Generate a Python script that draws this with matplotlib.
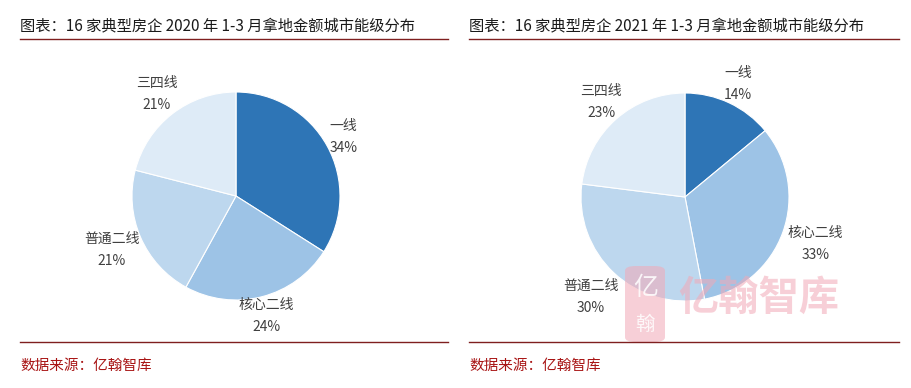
import matplotlib
matplotlib.use("Agg")
import matplotlib.pyplot as plt
from matplotlib.patches import FancyBboxPatch
from matplotlib.lines import Line2D
import numpy as np

plt.rcParams['font.family'] = ['Noto Sans CJK SC', 'DejaVu Sans']

categories = ["一线", "核心二线", "普通二线", "三四线"]
values_2020 = [34, 24, 21, 21]
values_2021 = [14, 33, 30, 23]
title_2020 = "图表：16 家典型房企 2020 年 1-3 月拿地金额城市能级分布"
title_2021 = "图表：16 家典型房企 2021 年 1-3 月拿地金额城市能级分布"
source_text = "数据来源：亿翰智库"
watermark = "亿翰智库"

colors = ["#2E75B6", "#9DC3E6", "#BDD7EE", "#DEEBF7"]
label_dist_2020 = [1.18, 1.19, 1.3, 1.24]
label_dist_2021 = [1.2, 1.33, 1.32, 1.22]

W, H = 912, 388
fig = plt.figure(figsize=(W / 100, H / 100), dpi=100)
fig.patch.set_facecolor("white")


def px_axes(cx, cy, r):
    return fig.add_axes([(cx - r) / W, (H - cy - r) / H, 2 * r / W, 2 * r / H])


def draw_pie(cx, cy, r, values, dists):
    ax = px_axes(cx, cy, r)
    labels = [f"{c}\n{v}%" for c, v in zip(categories, values)]
    wedges, texts = ax.pie(values, colors=colors, startangle=90, counterclock=False,
                           labels=labels, labeldistance=1.2, radius=1.0,
                           wedgeprops=dict(edgecolor="white", linewidth=0.8),
                           textprops=dict(ha="center", va="center", fontsize=10,
                                          color="#404040", linespacing=1.7))
    for w, t, d in zip(wedges, texts, dists):
        ang = np.deg2rad((w.theta1 + w.theta2) / 2)
        t.set_position((d * np.cos(ang), d * np.sin(ang)))
    ax.set_xlim(-1, 1)
    ax.set_ylim(-1, 1)
    ax.set_aspect("equal")
    ax.axis("off")
    return ax


draw_pie(236, 196, 104, values_2020, label_dist_2020)
draw_pie(685, 197, 104, values_2021, label_dist_2021)

line_color = "#7F1F1F"
for x0, x1, title in [(20, 448, title_2020), (469, 899, title_2021)]:
    fig.text(x0 / W, 1 - 26 / H, title, fontsize=11, color="#1a1a1a", ha="left", va="center")
    fig.add_artist(Line2D([x0 / W, x1 / W], [1 - 39 / H, 1 - 39 / H], color=line_color, lw=1.0))
    fig.add_artist(Line2D([x0 / W, x1 / W], [1 - 342 / H, 1 - 342 / H], color=line_color, lw=1.0))
    fig.text(x0 / W, 1 - 366 / H, source_text, fontsize=10.5, color="#A81414", ha="left", va="center")

# watermark
pink = "#F2A9B6"
icon = FancyBboxPatch((625 / W, 1 - 342 / H), 40 / W, 76 / H,
                      boxstyle="round,pad=0,rounding_size=0.012",
                      transform=fig.transFigure, facecolor=pink, edgecolor="none", alpha=0.55)
fig.add_artist(icon)
fig.text(646 / W, 1 - 288 / H, "亿", fontsize=18, color="white", alpha=0.85, ha="center", va="center")
fig.text(645 / W, 1 - 324 / H, "翰", fontsize=14, color="white", alpha=0.85, ha="center", va="center")
fig.text(678 / W, 1 - 298 / H, watermark, fontsize=29, color=pink, alpha=0.55,
         ha="left", va="center", fontweight="bold")

fig.savefig("out.png", dpi=100, facecolor="white")
